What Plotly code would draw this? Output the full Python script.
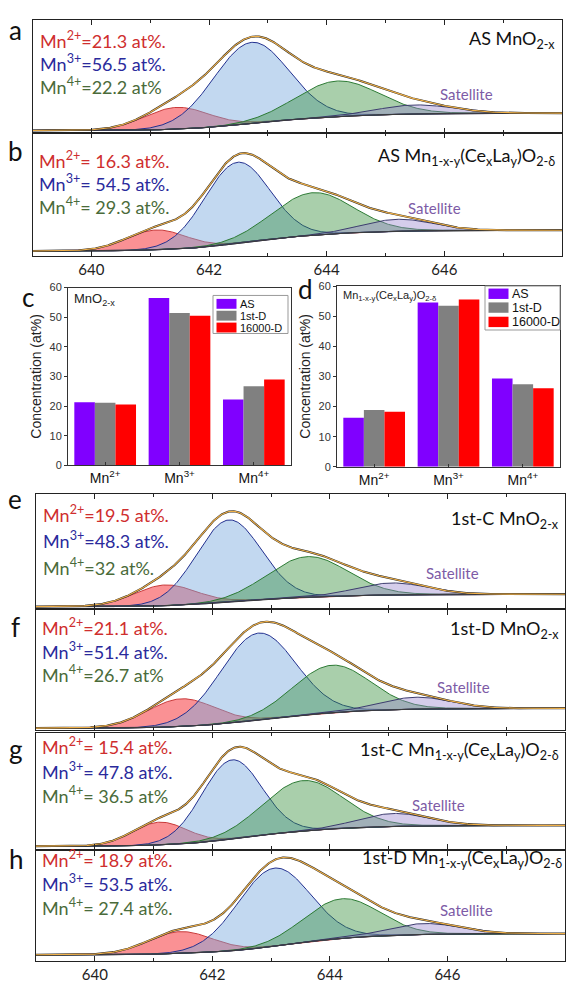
import numpy as np
import plotly.graph_objects as go

# ------------------------------------------------------------------
# DATA
# ------------------------------------------------------------------
# XPS Mn 2p3/2 fits, panels a, b, e, f, g, h (same order in every list)
panel_ids = ["a", "b", "e", "f", "g", "h"]
sample_names = [
    "AS MnO<sub>2-x</sub>",
    "AS Mn<sub>1-x-y</sub>(Ce<sub>x</sub>La<sub>y</sub>)O<sub>2-δ</sub>",
    "1st-C MnO<sub>2-x</sub>",
    "1st-D MnO<sub>2-x</sub>",
    "1st-C Mn<sub>1-x-y</sub>(Ce<sub>x</sub>La<sub>y</sub>)O<sub>2-δ</sub>",
    "1st-D Mn<sub>1-x-y</sub>(Ce<sub>x</sub>La<sub>y</sub>)O<sub>2-δ</sub>",
]
mn2_text = ["=21.3 at%.", "= 16.3 at%.", "=19.5 at%.", "=21.1 at%.", "= 15.4 at%.", "= 18.9 at%."]
mn3_text = ["=56.5 at%.", "= 54.5 at%.", "=48.3 at%.", "=51.4 at%.", "= 47.8 at%.", "= 53.5 at%."]
mn4_text = ["=22.2 at%", "= 29.3 at%.", "=32 at%.", "=26.7 at%", "= 36.5 at%", "= 27.4 at%."]

# fitted components: position (eV), height (a.u.), FWHM (eV)
mn2_pos = [641.45, 641.10, 641.20, 641.47, 641.10, 641.45]
mn2_amp = [22, 20, 21, 28, 23, 22]
mn2_fwhm = [1.30, 1.20, 1.25, 1.35, 1.10, 1.30]
mn3_pos = [642.72, 642.48, 642.28, 642.78, 642.33, 643.05]
mn3_amp = [82, 82, 83, 88, 80, 79]
mn3_fwhm = [1.50, 1.30, 1.30, 1.50, 1.20, 1.45]
mn4_pos = [644.18, 643.76, 643.62, 644.03, 643.54, 644.20]
mn4_amp = [36, 43, 41, 48, 51, 40]
mn4_fwhm = [1.65, 1.60, 1.60, 1.55, 1.60, 1.50]
sat_pos = [645.50, 645.20, 645.05, 645.46, 645.08, 645.60]
sat_amp = [9, 12, 12, 12, 13, 11]
sat_fwhm = [1.50, 1.40, 1.40, 1.40, 1.40, 1.40]
bg_low = [2.5, 5.0, 1.5, 2.0, 3.0, 6.5]     # Shirley background, low-BE side
bg_high = [20, 26, 14, 22, 24, 28]          # Shirley background, high-BE side
be_range = [639.0, 648.0]
be_ticks = [640, 642, 644, 646]

# bar charts c (MnO2-x) and d (Mn1-x-y(CexLay)O2-d)
states = ["Mn<sup>2+</sup>", "Mn<sup>3+</sup>", "Mn<sup>4+</sup>"]
series_names = ["AS", "1st-D", "16000-D"]
mno2_as = [21.3, 56.5, 22.2]
mno2_1st_d = [21.1, 51.4, 26.7]
mno2_16000_d = [20.5, 50.5, 29.0]
doped_as = [16.3, 54.5, 29.3]
doped_1st_d = [18.9, 53.5, 27.4]
doped_16000_d = [18.3, 55.5, 26.1]
conc_ticks = [0, 10, 20, 30, 40, 50, 60]

# ------------------------------------------------------------------
# LAYOUT GEOMETRY (pixels of the 567 x 987 page)
# ------------------------------------------------------------------
W, H = 567, 987
xps_left = [32.5, 32.5, 36, 36, 36, 36]
xps_right = [562, 562, 565, 565, 565, 565]
xps_top = [14.5, 128.5, 494, 611, 736, 855]
xps_bot = [128.5, 253, 609.5, 733, 853.5, 967]
text_first = [34, 155.5, 514, 629, 749, 863]
text_step = [23.5, 23.5, 27, 23.5, 25, 24.5]
text_x = [38, 37, 41, 40, 40, 40]
name_y = [34, 152, 520, 631, 754, 863]
name_x = [557, 557, 561, 561, 561, 564]
sat_xy = [(466, 88.6), (434, 204.6), (452, 574), (463, 689), (438, 808.6), (466, 915.5)]
letter_xy = {"a": (15, 24), "b": (15, 147), "c": (28, 295), "d": (305, 286),
             "e": (15, 499), "f": (15, 629), "g": (16, 752), "h": (16, 864)}


def px(x):
    return x / W


def py(y):
    return 1 - y / H


FONT = "Lato"
BARFONT = "Liberation Sans"
fills = ["rgba(245,55,60,0.55)", "rgba(120,168,222,0.45)",
         "rgba(50,140,55,0.42)", "rgba(150,130,205,0.40)"]
edges = ["#c83a3a", "#22308f", "#2c7a34", "#3c3c6e"]

fig = go.Figure()
E = np.linspace(be_range[0], be_range[1], 541)


def gauss(c, a, w):
    s = w / 2.3548
    return a * np.exp(-0.5 * ((E - c) / s) ** 2)


layout_axes = {}
annotations = []
shapes = []

for i, pid in enumerate(panel_ids):
    n = i + 1
    xa = "x" if n == 1 else f"x{n}"
    ya = "y" if n == 1 else f"y{n}"
    comps = [gauss(mn2_pos[i], mn2_amp[i], mn2_fwhm[i]),
             gauss(mn3_pos[i], mn3_amp[i], mn3_fwhm[i]),
             gauss(mn4_pos[i], mn4_amp[i], mn4_fwhm[i]),
             gauss(sat_pos[i], sat_amp[i], sat_fwhm[i])]
    tot = sum(comps)
    cum = np.cumsum(tot)
    cum = cum / cum[-1]
    bg = bg_low[i] + (bg_high[i] - bg_low[i]) * cum
    for comp, fc, lc in zip(comps, fills, edges):
        fig.add_trace(go.Scatter(
            x=np.r_[E, E[::-1]], y=np.r_[bg + comp, bg[::-1]],
            fill="toself", fillcolor=fc, mode="lines",
            line=dict(color=lc, width=1), hoverinfo="skip",
            showlegend=False, xaxis=xa, yaxis=ya))
    fig.add_trace(go.Scatter(x=E, y=bg, mode="lines", line=dict(color="#3b3b3b", width=1),
                             showlegend=False, hoverinfo="skip", xaxis=xa, yaxis=ya))
    fig.add_trace(go.Scatter(x=E, y=bg + tot, mode="lines", line=dict(color="#2a2a2a", width=2.0),
                             showlegend=False, hoverinfo="skip", xaxis=xa, yaxis=ya))
    fig.add_trace(go.Scatter(x=E, y=bg + tot, mode="lines", line=dict(color="#f0b048", width=1.1),
                             showlegend=False, hoverinfo="skip", xaxis=xa, yaxis=ya))

    key = "" if n == 1 else str(n)
    show_lbl = pid in ("b", "h")
    layout_axes["xaxis" + key] = dict(
        domain=[px(xps_left[i]), px(xps_right[i])], anchor=ya, range=be_range,
        tickvals=be_ticks, ticks="inside", ticklen=5, tickwidth=1, tickcolor="#222",
        minor=dict(dtick=1, tick0=639, ticks="inside", ticklen=3, tickcolor="#222"),
        showline=True, linecolor="#222", linewidth=1, mirror="allticks",
        showticklabels=show_lbl, tickfont=dict(family=FONT, size=15, color="#222"),
        showgrid=False, zeroline=False)
    layout_axes["yaxis" + key] = dict(
        domain=[py(xps_bot[i]), py(xps_top[i])], anchor=xa,
        range=[0, xps_bot[i] - xps_top[i]], showticklabels=False, ticks="",
        showline=True, linecolor="#222", linewidth=1, mirror=True,
        showgrid=False, zeroline=False)

    cols = ["#cf2e2e", "#2a2a9c", "#4a6b3a"]
    labels = [f"Mn<sup>2+</sup>{mn2_text[i]}", f"Mn<sup>3+</sup>{mn3_text[i]}",
              f"Mn<sup>4+</sup>{mn4_text[i]}"]
    for k, (lab, col) in enumerate(zip(labels, cols)):
        annotations.append(dict(text=lab, x=px(text_x[i]), y=py(text_first[i] + k * text_step[i]),
                                xref="paper", yref="paper", xanchor="left", yanchor="middle",
                                showarrow=False, font=dict(family=FONT, size=18, color=col)))
    annotations.append(dict(text=sample_names[i], x=px(name_x[i]), y=py(name_y[i]), xref="paper",
                            yref="paper", xanchor="right", yanchor="middle", showarrow=False,
                            font=dict(family=FONT, size=18, color="#111")))
    annotations.append(dict(text="Satellite", x=px(sat_xy[i][0]), y=py(sat_xy[i][1]),
                            xref="paper", yref="paper", xanchor="center", yanchor="middle",
                            showarrow=False, font=dict(family=FONT, size=15, color="#7d5ba6")))

# ---------------- bar charts ----------------
bar_cols = ["#8000ff", "#808080", "#ff0000"]
for vals, name, col in zip([mno2_as, mno2_1st_d, mno2_16000_d], series_names, bar_cols):
    fig.add_trace(go.Bar(x=states, y=vals, name=name, marker=dict(color=col, line=dict(width=0)),
                         xaxis="x7", yaxis="y7", showlegend=False))
for vals, name, col in zip([doped_as, doped_1st_d, doped_16000_d], series_names, bar_cols):
    fig.add_trace(go.Bar(x=states, y=vals, name=name, marker=dict(color=col, line=dict(width=0)),
                         xaxis="x8", yaxis="y8", showlegend=False))

bar_boxes = {"7": (68, 291, 285, 465), "8": (337, 560, 283.5, 466.5)}
for key, (l, r, t, b) in bar_boxes.items():
    layout_axes["xaxis" + key] = dict(
        domain=[px(l), px(r)], anchor="y" + key, type="category",
        showline=True, linecolor="#333", linewidth=1, mirror=True,
        ticks="inside", ticklen=3, tickcolor="#333",
        tickfont=dict(family=BARFONT, size=14, color="#111"), showgrid=False)
    layout_axes["yaxis" + key] = dict(
        domain=[py(b), py(t)], anchor="x" + key, range=[0, 60], tickvals=conc_ticks,
        ticks="outside", ticklen=3, tickcolor="#333",
        showline=True, linecolor="#333", linewidth=1, mirror=True,
        tickfont=dict(family=BARFONT, size=11, color="#333"),
        title=dict(text="Concentration (at%)", standoff=4,
                   font=dict(family=BARFONT, size=14, color="#222")),
        showgrid=False, zeroline=False)

annotations.append(dict(text="MnO<sub>2-x</sub>", x=px(72), y=py(297), xref="paper", yref="paper",
                        xanchor="left", yanchor="middle", showarrow=False,
                        font=dict(family=BARFONT, size=13, color="#222")))
annotations.append(dict(text="Mn<sub>1-x-y</sub>(Ce<sub>x</sub>La<sub>y</sub>)O<sub>2-δ</sub>",
                        x=px(341), y=py(294), xref="paper", yref="paper",
                        xanchor="left", yanchor="middle", showarrow=False,
                        font=dict(family=BARFONT, size=11, color="#222")))

# legends of c and d (box, colour keys, names)
legend_boxes = [(213, 288, 293, 331.5), (485, 560, 283.5, 328)]
legend_rows = [[301.5, 313.5, 325.5], [291.3, 305.3, 319.8]]
legend_font = [11, 12.5]
legend_key_h = [10, 10.5]
for (l, r, t, b), rows, fs, kh in zip(legend_boxes, legend_rows, legend_font, legend_key_h):
    shapes.append(dict(type="rect", xref="paper", yref="paper", x0=px(l), x1=px(r),
                       y0=py(b), y1=py(t), line=dict(color="#999", width=1),
                       fillcolor="white", layer="above"))
    for yc, name, col in zip(rows, series_names, bar_cols):
        shapes.append(dict(type="rect", xref="paper", yref="paper", x0=px(l + 3.5), x1=px(l + 23.5),
                           y0=py(yc + kh / 2), y1=py(yc - kh / 2), line=dict(width=0),
                           fillcolor=col, layer="above"))
        annotations.append(dict(text=name, x=px(l + 25), y=py(yc), xref="paper", yref="paper",
                                xanchor="left", yanchor="middle", showarrow=False,
                                font=dict(family=BARFONT, size=fs, color="#111")))

for lt, (lx, ly) in letter_xy.items():
    annotations.append(dict(text=lt, x=px(lx), y=py(ly), xref="paper", yref="paper",
                            xanchor="center", yanchor="middle", showarrow=False,
                            font=dict(family=FONT, size=26, color="#111")))

fig.update_layout(
    width=W, height=H, margin=dict(l=0, r=0, t=0, b=0),
    paper_bgcolor="white", plot_bgcolor="white",
    barmode="group", bargap=0.17, bargroupgap=0, showlegend=False,
    annotations=annotations, shapes=shapes, **layout_axes)

# remove the browser's default 8 px page margin so the figure sits at the page origin
fig.write_html("out.html", config={"displayModeBar": False},
               post_script="document.body.style.margin='0px';document.body.style.padding='0px';")
